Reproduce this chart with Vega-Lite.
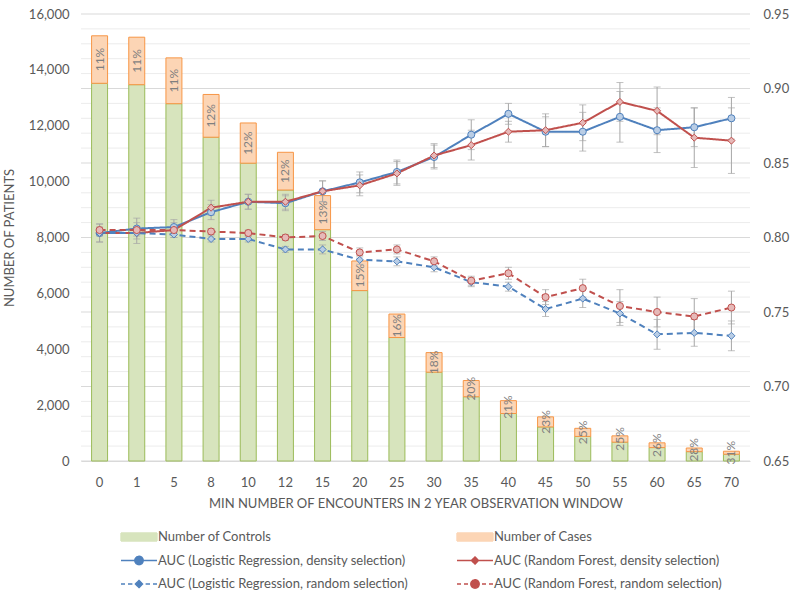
{
  "$schema": "https://vega.github.io/schema/vega-lite/v6.json",
  "width": 669,
  "height": 447,
  "autosize": "none",
  "padding": {"left": 81, "top": 14, "right": 50, "bottom": 140},
  "background": "white",
  "config": {
    "view": {"stroke": null},
    "font": "Lato",
    "axis": {"labelColor": "#595959", "titleColor": "#595959", "labelFontSize": 13, "titleFontSize": 13, "titleFontWeight": "normal", "ticks": false}
  },
  "datasets": {
    "grid": [
      {"v": 0.65}, {"v": 0.66}, {"v": 0.67}, {"v": 0.68}, {"v": 0.69}, {"v": 0.70}, {"v": 0.71}, {"v": 0.72}, {"v": 0.73}, {"v": 0.74},
      {"v": 0.75}, {"v": 0.76}, {"v": 0.77}, {"v": 0.78}, {"v": 0.79}, {"v": 0.80}, {"v": 0.81}, {"v": 0.82}, {"v": 0.83}, {"v": 0.84},
      {"v": 0.85}, {"v": 0.86}, {"v": 0.87}, {"v": 0.88}, {"v": 0.89}, {"v": 0.90}, {"v": 0.91}, {"v": 0.92}, {"v": 0.93}, {"v": 0.94}, {"v": 0.95}
    ],
    "bars": [
      {"x": 0, "controls": 13520, "total": 15220, "pct": "11%"},
      {"x": 1, "controls": 13470, "total": 15170, "pct": "11%"},
      {"x": 5, "controls": 12790, "total": 14430, "pct": "11%"},
      {"x": 8, "controls": 11590, "total": 13120, "pct": "12%"},
      {"x": 10, "controls": 10660, "total": 12100, "pct": "12%"},
      {"x": 12, "controls": 9700, "total": 11050, "pct": "12%"},
      {"x": 15, "controls": 8280, "total": 9500, "pct": "13%"},
      {"x": 20, "controls": 6100, "total": 7160, "pct": "15%"},
      {"x": 25, "controls": 4420, "total": 5260, "pct": "16%"},
      {"x": 30, "controls": 3180, "total": 3880, "pct": "18%"},
      {"x": 35, "controls": 2300, "total": 2880, "pct": "20%"},
      {"x": 40, "controls": 1700, "total": 2160, "pct": "21%"},
      {"x": 45, "controls": 1220, "total": 1580, "pct": "23%"},
      {"x": 50, "controls": 880, "total": 1170, "pct": "25%"},
      {"x": 55, "controls": 675, "total": 900, "pct": "25%"},
      {"x": 60, "controls": 480, "total": 650, "pct": "26%"},
      {"x": 65, "controls": 335, "total": 465, "pct": "28%"},
      {"x": 70, "controls": 242, "total": 350, "pct": "31%"}
    ],
    "auc": [
      {"x": 0, "s": "AUC (Logistic Regression, density selection)", "auc": 0.803, "lo": 0.797, "hi": 0.809},
      {"x": 1, "s": "AUC (Logistic Regression, density selection)", "auc": 0.806, "lo": 0.799, "hi": 0.813},
      {"x": 5, "s": "AUC (Logistic Regression, density selection)", "auc": 0.807, "lo": 0.802, "hi": 0.812},
      {"x": 8, "s": "AUC (Logistic Regression, density selection)", "auc": 0.817, "lo": 0.812, "hi": 0.822},
      {"x": 10, "s": "AUC (Logistic Regression, density selection)", "auc": 0.824, "lo": 0.819, "hi": 0.829},
      {"x": 12, "s": "AUC (Logistic Regression, density selection)", "auc": 0.823, "lo": 0.818, "hi": 0.828},
      {"x": 15, "s": "AUC (Logistic Regression, density selection)", "auc": 0.831, "lo": 0.824, "hi": 0.838},
      {"x": 20, "s": "AUC (Logistic Regression, density selection)", "auc": 0.837, "lo": 0.830, "hi": 0.844},
      {"x": 25, "s": "AUC (Logistic Regression, density selection)", "auc": 0.844, "lo": 0.836, "hi": 0.852},
      {"x": 30, "s": "AUC (Logistic Regression, density selection)", "auc": 0.854, "lo": 0.846, "hi": 0.862},
      {"x": 35, "s": "AUC (Logistic Regression, density selection)", "auc": 0.869, "lo": 0.859, "hi": 0.879},
      {"x": 40, "s": "AUC (Logistic Regression, density selection)", "auc": 0.883, "lo": 0.876, "hi": 0.890},
      {"x": 45, "s": "AUC (Logistic Regression, density selection)", "auc": 0.871, "lo": 0.861, "hi": 0.881},
      {"x": 50, "s": "AUC (Logistic Regression, density selection)", "auc": 0.871, "lo": 0.858, "hi": 0.884},
      {"x": 55, "s": "AUC (Logistic Regression, density selection)", "auc": 0.881, "lo": 0.864, "hi": 0.898},
      {"x": 60, "s": "AUC (Logistic Regression, density selection)", "auc": 0.872, "lo": 0.857, "hi": 0.887},
      {"x": 65, "s": "AUC (Logistic Regression, density selection)", "auc": 0.874, "lo": 0.861, "hi": 0.887},
      {"x": 70, "s": "AUC (Logistic Regression, density selection)", "auc": 0.880, "lo": 0.866, "hi": 0.894},
      {"x": 0, "s": "AUC (Random Forest, density selection)", "auc": 0.803, "lo": 0.797, "hi": 0.809},
      {"x": 1, "s": "AUC (Random Forest, density selection)", "auc": 0.803, "lo": 0.796, "hi": 0.810},
      {"x": 5, "s": "AUC (Random Forest, density selection)", "auc": 0.805, "lo": 0.800, "hi": 0.810},
      {"x": 8, "s": "AUC (Random Forest, density selection)", "auc": 0.820, "lo": 0.815, "hi": 0.825},
      {"x": 10, "s": "AUC (Random Forest, density selection)", "auc": 0.824, "lo": 0.819, "hi": 0.829},
      {"x": 12, "s": "AUC (Random Forest, density selection)", "auc": 0.824, "lo": 0.819, "hi": 0.829},
      {"x": 15, "s": "AUC (Random Forest, density selection)", "auc": 0.831, "lo": 0.824, "hi": 0.838},
      {"x": 20, "s": "AUC (Random Forest, density selection)", "auc": 0.835, "lo": 0.828, "hi": 0.842},
      {"x": 25, "s": "AUC (Random Forest, density selection)", "auc": 0.843, "lo": 0.835, "hi": 0.851},
      {"x": 30, "s": "AUC (Random Forest, density selection)", "auc": 0.855, "lo": 0.847, "hi": 0.863},
      {"x": 35, "s": "AUC (Random Forest, density selection)", "auc": 0.862, "lo": 0.852, "hi": 0.872},
      {"x": 40, "s": "AUC (Random Forest, density selection)", "auc": 0.871, "lo": 0.864, "hi": 0.878},
      {"x": 45, "s": "AUC (Random Forest, density selection)", "auc": 0.872, "lo": 0.861, "hi": 0.883},
      {"x": 50, "s": "AUC (Random Forest, density selection)", "auc": 0.877, "lo": 0.865, "hi": 0.889},
      {"x": 55, "s": "AUC (Random Forest, density selection)", "auc": 0.891, "lo": 0.878, "hi": 0.904},
      {"x": 60, "s": "AUC (Random Forest, density selection)", "auc": 0.885, "lo": 0.869, "hi": 0.901},
      {"x": 65, "s": "AUC (Random Forest, density selection)", "auc": 0.867, "lo": 0.847, "hi": 0.887},
      {"x": 70, "s": "AUC (Random Forest, density selection)", "auc": 0.865, "lo": 0.843, "hi": 0.887},
      {"x": 0, "s": "AUC (Logistic Regression, random selection)", "auc": 0.803, "lo": 0.801, "hi": 0.805},
      {"x": 1, "s": "AUC (Logistic Regression, random selection)", "auc": 0.803, "lo": 0.801, "hi": 0.805},
      {"x": 5, "s": "AUC (Logistic Regression, random selection)", "auc": 0.802, "lo": 0.800, "hi": 0.804},
      {"x": 8, "s": "AUC (Logistic Regression, random selection)", "auc": 0.799, "lo": 0.797, "hi": 0.801},
      {"x": 10, "s": "AUC (Logistic Regression, random selection)", "auc": 0.799, "lo": 0.797, "hi": 0.801},
      {"x": 12, "s": "AUC (Logistic Regression, random selection)", "auc": 0.792, "lo": 0.790, "hi": 0.794},
      {"x": 15, "s": "AUC (Logistic Regression, random selection)", "auc": 0.792, "lo": 0.789, "hi": 0.795},
      {"x": 20, "s": "AUC (Logistic Regression, random selection)", "auc": 0.785, "lo": 0.782, "hi": 0.788},
      {"x": 25, "s": "AUC (Logistic Regression, random selection)", "auc": 0.784, "lo": 0.781, "hi": 0.787},
      {"x": 30, "s": "AUC (Logistic Regression, random selection)", "auc": 0.780, "lo": 0.777, "hi": 0.783},
      {"x": 35, "s": "AUC (Logistic Regression, random selection)", "auc": 0.770, "lo": 0.767, "hi": 0.773},
      {"x": 40, "s": "AUC (Logistic Regression, random selection)", "auc": 0.767, "lo": 0.764, "hi": 0.770},
      {"x": 45, "s": "AUC (Logistic Regression, random selection)", "auc": 0.752, "lo": 0.747, "hi": 0.757},
      {"x": 50, "s": "AUC (Logistic Regression, random selection)", "auc": 0.759, "lo": 0.753, "hi": 0.765},
      {"x": 55, "s": "AUC (Logistic Regression, random selection)", "auc": 0.749, "lo": 0.741, "hi": 0.757},
      {"x": 60, "s": "AUC (Logistic Regression, random selection)", "auc": 0.735, "lo": 0.725, "hi": 0.745},
      {"x": 65, "s": "AUC (Logistic Regression, random selection)", "auc": 0.736, "lo": 0.727, "hi": 0.745},
      {"x": 70, "s": "AUC (Logistic Regression, random selection)", "auc": 0.734, "lo": 0.724, "hi": 0.744},
      {"x": 0, "s": "AUC (Random Forest, random selection)", "auc": 0.805, "lo": 0.803, "hi": 0.807},
      {"x": 1, "s": "AUC (Random Forest, random selection)", "auc": 0.805, "lo": 0.803, "hi": 0.807},
      {"x": 5, "s": "AUC (Random Forest, random selection)", "auc": 0.805, "lo": 0.803, "hi": 0.807},
      {"x": 8, "s": "AUC (Random Forest, random selection)", "auc": 0.804, "lo": 0.802, "hi": 0.806},
      {"x": 10, "s": "AUC (Random Forest, random selection)", "auc": 0.803, "lo": 0.801, "hi": 0.805},
      {"x": 12, "s": "AUC (Random Forest, random selection)", "auc": 0.800, "lo": 0.798, "hi": 0.802},
      {"x": 15, "s": "AUC (Random Forest, random selection)", "auc": 0.801, "lo": 0.798, "hi": 0.804},
      {"x": 20, "s": "AUC (Random Forest, random selection)", "auc": 0.790, "lo": 0.787, "hi": 0.793},
      {"x": 25, "s": "AUC (Random Forest, random selection)", "auc": 0.792, "lo": 0.789, "hi": 0.795},
      {"x": 30, "s": "AUC (Random Forest, random selection)", "auc": 0.784, "lo": 0.781, "hi": 0.787},
      {"x": 35, "s": "AUC (Random Forest, random selection)", "auc": 0.771, "lo": 0.768, "hi": 0.774},
      {"x": 40, "s": "AUC (Random Forest, random selection)", "auc": 0.776, "lo": 0.772, "hi": 0.780},
      {"x": 45, "s": "AUC (Random Forest, random selection)", "auc": 0.760, "lo": 0.755, "hi": 0.765},
      {"x": 50, "s": "AUC (Random Forest, random selection)", "auc": 0.766, "lo": 0.760, "hi": 0.772},
      {"x": 55, "s": "AUC (Random Forest, random selection)", "auc": 0.754, "lo": 0.743, "hi": 0.765},
      {"x": 60, "s": "AUC (Random Forest, random selection)", "auc": 0.750, "lo": 0.740, "hi": 0.760},
      {"x": 65, "s": "AUC (Random Forest, random selection)", "auc": 0.747, "lo": 0.735, "hi": 0.759},
      {"x": 70, "s": "AUC (Random Forest, random selection)", "auc": 0.753, "lo": 0.742, "hi": 0.764}
    ]
  },
  "layer": [
    {
      "data": {"name": "grid"},
      "mark": {"type": "rule", "strokeWidth": 1},
      "encoding": {
        "y": {"field": "v", "type": "quantitative", "scale": {"domain": [0.65, 0.95], "nice": false, "zero": false}, "axis": null},
        "stroke": {"condition": {"test": "round(datum.v * 100) % 5 == 0", "value": "#d9d9d9"}, "value": "#ececec"}
      }
    },
    {
      "data": {"name": "bars"},
      "layer": [
        {
          "mark": {"type": "bar", "width": {"band": 0.43}, "stroke": "#9bbb59", "strokeWidth": 1},
          "encoding": {
            "x": {"field": "x", "type": "ordinal", "scale": {"paddingInner": 0, "paddingOuter": 0},
                  "axis": {"title": "MIN NUMBER OF ENCOUNTERS IN 2 YEAR OBSERVATION WINDOW", "labelAngle": 0, "labelPadding": 15, "titlePadding": 8, "domainColor": "#d9d9d9", "grid": false}},
            "y": {"field": "controls", "type": "quantitative", "stack": null, "scale": {"domain": [0, 16000], "nice": false},
                  "axis": {"orient": "left", "title": "NUMBER OF PATIENTS", "values": [0, 2000, 4000, 6000, 8000, 10000, 12000, 14000, 16000], "labelExpr": "format(datum.value, ',')", "grid": false, "domain": false, "labelPadding": 12, "titlePadding": 12}},
            "color": {"datum": "Number of Controls", "type": "nominal"}
          }
        },
        {
          "mark": {"type": "bar", "width": {"band": 0.43}, "stroke": "#f79646", "strokeWidth": 1},
          "encoding": {
            "x": {"field": "x", "type": "ordinal", "scale": {"paddingInner": 0, "paddingOuter": 0},
                  "axis": {"title": "MIN NUMBER OF ENCOUNTERS IN 2 YEAR OBSERVATION WINDOW", "labelAngle": 0, "labelPadding": 15, "titlePadding": 8, "domainColor": "#d9d9d9", "grid": false}},
            "y": {"field": "controls", "type": "quantitative", "stack": null, "scale": {"domain": [0, 16000], "nice": false},
                  "axis": {"orient": "left", "title": "NUMBER OF PATIENTS", "values": [0, 2000, 4000, 6000, 8000, 10000, 12000, 14000, 16000], "labelExpr": "format(datum.value, ',')", "grid": false, "domain": false, "labelPadding": 12, "titlePadding": 12}},
            "y2": {"field": "total"},
            "color": {"datum": "Number of Cases", "type": "nominal"}
          }
        },
        {
          "transform": [{"calculate": "(datum.controls + datum.total) / 2", "as": "mid"}],
          "mark": {"type": "text", "angle": 270, "fontSize": 12, "color": "#7f7f7f", "baseline": "middle", "align": "center"},
          "encoding": {
            "x": {"field": "x", "type": "ordinal", "scale": {"paddingInner": 0, "paddingOuter": 0},
                  "axis": {"title": "MIN NUMBER OF ENCOUNTERS IN 2 YEAR OBSERVATION WINDOW", "labelAngle": 0, "labelPadding": 15, "titlePadding": 8, "domainColor": "#d9d9d9", "grid": false}},
            "y": {"field": "mid", "type": "quantitative", "scale": {"domain": [0, 16000], "nice": false},
                  "axis": {"orient": "left", "title": "NUMBER OF PATIENTS", "values": [0, 2000, 4000, 6000, 8000, 10000, 12000, 14000, 16000], "labelExpr": "format(datum.value, ',')", "grid": false, "domain": false, "labelPadding": 12, "titlePadding": 12}},
            "text": {"field": "pct", "type": "nominal"}
          }
        }
      ]
    },
    {
      "data": {"name": "auc"},
      "layer": [
        {
          "mark": {"type": "rule", "color": "#a6a6a6", "strokeWidth": 1},
          "encoding": {
            "x": {"field": "x", "type": "ordinal"},
            "y": {"field": "lo", "type": "quantitative", "scale": {"domain": [0.65, 0.95], "nice": false, "zero": false},
                  "axis": {"orient": "right", "title": null, "values": [0.65, 0.70, 0.75, 0.80, 0.85, 0.90, 0.95], "format": ".2f", "labelOverlap": false, "domain": false, "labelPadding": 13, "grid": false}},
            "y2": {"field": "hi"}
          }
        },
        {
          "mark": {"type": "tick", "color": "#a6a6a6", "size": 7, "thickness": 1},
          "encoding": {
            "x": {"field": "x", "type": "ordinal"},
            "y": {"field": "lo", "type": "quantitative", "scale": {"domain": [0.65, 0.95], "nice": false, "zero": false},
                  "axis": {"orient": "right", "title": null, "values": [0.65, 0.70, 0.75, 0.80, 0.85, 0.90, 0.95], "format": ".2f", "labelOverlap": false, "domain": false, "labelPadding": 13, "grid": false}}
          }
        },
        {
          "mark": {"type": "tick", "color": "#a6a6a6", "size": 7, "thickness": 1},
          "encoding": {
            "x": {"field": "x", "type": "ordinal"},
            "y": {"field": "hi", "type": "quantitative", "scale": {"domain": [0.65, 0.95], "nice": false, "zero": false},
                  "axis": {"orient": "right", "title": null, "values": [0.65, 0.70, 0.75, 0.80, 0.85, 0.90, 0.95], "format": ".2f", "labelOverlap": false, "domain": false, "labelPadding": 13, "grid": false}}
          }
        },
        {
          "mark": {"type": "line", "strokeWidth": 2},
          "encoding": {
            "x": {"field": "x", "type": "ordinal"},
            "y": {"field": "auc", "type": "quantitative", "scale": {"domain": [0.65, 0.95], "nice": false, "zero": false},
                  "axis": {"orient": "right", "title": null, "values": [0.65, 0.70, 0.75, 0.80, 0.85, 0.90, 0.95], "format": ".2f", "labelOverlap": false, "domain": false, "labelPadding": 13, "grid": false}},
            "color": {"field": "s", "type": "nominal",
                      "scale": {"domain": ["Number of Controls", "AUC (Logistic Regression, density selection)", "AUC (Logistic Regression, random selection)", "Number of Cases", "AUC (Random Forest, density selection)", "AUC (Random Forest, random selection)"],
                                "range": ["#d7e4bd", "#4f81bd", "#4f81bd", "#fcd5b5", "#c0504d", "#c0504d"]},
                      "legend": {"orient": "none", "legendX": 47, "legendY": 512, "columns": 2, "columnPadding": 46, "rowPadding": 5.5, "title": null,
                                 "labelFontSize": 13, "labelColor": "#595959", "labelLimit": 0, "labelOffset": 8, "symbolSize": 400,
                                 "encode": {"symbols": {"update": {
                                   "shape": {"signal": "{'Number of Controls': 'M-1.8,-0.4L1.8,-0.4L1.8,0.4L-1.8,0.4Z', 'Number of Cases': 'M-1.8,-0.4L1.8,-0.4L1.8,0.4L-1.8,0.4Z', 'AUC (Logistic Regression, density selection)': 'M-1.8,0L-0.42,0M0.42,0L1.8,0M-0.42,0A0.42,0.42,0,1,0,0.42,0A0.42,0.42,0,1,0,-0.42,0Z', 'AUC (Random Forest, density selection)': 'M-1.8,0L-0.36,0M0.36,0L1.8,0M-0.36,0L0,-0.36L0.36,0L0,0.36Z', 'AUC (Logistic Regression, random selection)': 'M-1.8,0L-1.4,0M-1.1,0L-0.66,0M0.66,0L1.1,0M1.4,0L1.8,0M-0.36,0L0,-0.36L0.36,0L0,0.36Z', 'AUC (Random Forest, random selection)': 'M-1.8,0L-1.4,0M-1.1,0L-0.7,0M0.7,0L1.1,0M1.4,0L1.8,0M-0.42,0A0.42,0.42,0,1,0,0.42,0A0.42,0.42,0,1,0,-0.42,0Z'}[datum.value]"},
                                   "fill": {"signal": "{'Number of Controls': '#d7e4bd', 'Number of Cases': '#fcd5b5', 'AUC (Logistic Regression, density selection)': '#b9cde5', 'AUC (Random Forest, density selection)': '#e6b9b8', 'AUC (Logistic Regression, random selection)': '#b9cde5', 'AUC (Random Forest, random selection)': '#e6b9b8'}[datum.value]"},
                                   "stroke": {"signal": "{'Number of Controls': '#9bbb59', 'Number of Cases': '#f79646', 'AUC (Logistic Regression, density selection)': '#4f81bd', 'AUC (Random Forest, density selection)': '#c0504d', 'AUC (Logistic Regression, random selection)': '#4f81bd', 'AUC (Random Forest, random selection)': '#c0504d'}[datum.value]"},
                                   "strokeWidth": {"value": 1.4},
                                   "strokeDash": {"value": [1, 0]},
                                   "opacity": {"value": 1},
                                   "fillOpacity": {"value": 1},
                                   "size": {"value": 400}
                                 }}}}},
            "strokeDash": {"field": "s", "type": "nominal", "legend": null,
                           "scale": {"domain": ["AUC (Logistic Regression, density selection)", "AUC (Random Forest, density selection)", "AUC (Logistic Regression, random selection)", "AUC (Random Forest, random selection)"],
                                     "range": [[1, 0], [1, 0], [6, 4], [6, 4]]}}
          }
        },
        {
          "mark": {"type": "point", "filled": false, "strokeWidth": 1, "opacity": 1, "size": 50},
          "encoding": {
            "x": {"field": "x", "type": "ordinal"},
            "y": {"field": "auc", "type": "quantitative", "scale": {"domain": [0.65, 0.95], "nice": false, "zero": false},
                  "axis": {"orient": "right", "title": null, "values": [0.65, 0.70, 0.75, 0.80, 0.85, 0.90, 0.95], "format": ".2f", "labelOverlap": false, "domain": false, "labelPadding": 13, "grid": false}},
            "color": {"field": "s", "type": "nominal"},
            "shape": {"field": "s", "type": "nominal", "legend": null,
                      "scale": {"domain": ["AUC (Logistic Regression, density selection)", "AUC (Random Forest, density selection)", "AUC (Logistic Regression, random selection)", "AUC (Random Forest, random selection)"],
                                "range": ["circle", "diamond", "diamond", "circle"]}},
            "fill": {"field": "s", "type": "nominal", "legend": null,
                     "scale": {"domain": ["AUC (Logistic Regression, density selection)", "AUC (Random Forest, density selection)", "AUC (Logistic Regression, random selection)", "AUC (Random Forest, random selection)"],
                               "range": ["#b9cde5", "#e6b9b8", "#b9cde5", "#e6b9b8"]}}
          }
        }
      ]
    }
  ],
  "resolve": {"scale": {"y": "independent"}}
}
